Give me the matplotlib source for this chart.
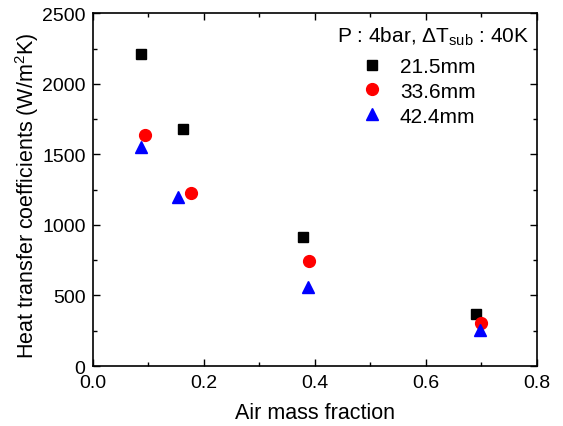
import matplotlib
matplotlib.use("Agg")
import matplotlib.pyplot as plt
from matplotlib.ticker import MultipleLocator, FormatStrFormatter

plt.rcParams['font.family'] = ['Liberation Sans', 'DejaVu Sans']
plt.rcParams['mathtext.fontset'] = 'custom'
plt.rcParams['mathtext.rm'] = 'Liberation Sans'
plt.rcParams['mathtext.it'] = 'Liberation Sans:italic'

labels = ['21.5mm', '33.6mm', '42.4mm']
x_215 = [0.088, 0.163, 0.378, 0.690]
y_215 = [2214, 1680, 912, 368]
x_336 = [0.095, 0.177, 0.389, 0.700]
y_336 = [1635, 1228, 744, 303]
x_424 = [0.087, 0.154, 0.388, 0.697]
y_424 = [1555, 1200, 558, 253]

fig = plt.figure(figsize=(5.63, 4.27), dpi=100)
ax = fig.add_axes([0.1643, 0.1405, 0.7895, 0.826])

ax.plot(x_215, y_215, 's', color='black', ms=7.5, ls='none', label=labels[0])
ax.plot(x_336, y_336, 'o', color='red', ms=8.5, ls='none', label=labels[1])
ax.plot(x_424, y_424, '^', color='blue', ms=9, ls='none', label=labels[2])

ax.set_xlim(0, 0.8)
ax.set_ylim(0, 2500)
ax.xaxis.set_major_locator(MultipleLocator(0.2))
ax.xaxis.set_minor_locator(MultipleLocator(0.1))
ax.yaxis.set_major_locator(MultipleLocator(500))
ax.yaxis.set_minor_locator(MultipleLocator(250))
ax.xaxis.set_major_formatter(FormatStrFormatter('%.1f'))
ax.tick_params(which='both', direction='in', top=True, right=True, labelsize=14)
ax.tick_params(which='major', length=5, width=1)
ax.tick_params(which='minor', length=3, width=1)
ax.tick_params(axis='x', pad=6)
ax.tick_params(axis='y', pad=5)
for s in ax.spines.values():
    s.set_linewidth(1.2)

ax.set_xlabel('Air mass fraction', fontsize=15.5, labelpad=8)
ax.set_ylabel('Heat transfer coefficients (W/m$^2$K)', fontsize=15.5, labelpad=1)
ax.yaxis.label.set_y(0.485)

ax.text(0.982, 0.919, 'P : 4bar, $\\Delta$T$_{\\rm sub}$ : 40K', transform=ax.transAxes,
        ha='right', va='baseline', fontsize=15)

leg = ax.legend(loc='upper left', bbox_to_anchor=(0.586, 0.90), borderaxespad=0,
                frameon=False, fontsize=15, handlelength=1.0, handletextpad=0.85,
                labelspacing=0.28)

fig.savefig('out.png', dpi=100)
